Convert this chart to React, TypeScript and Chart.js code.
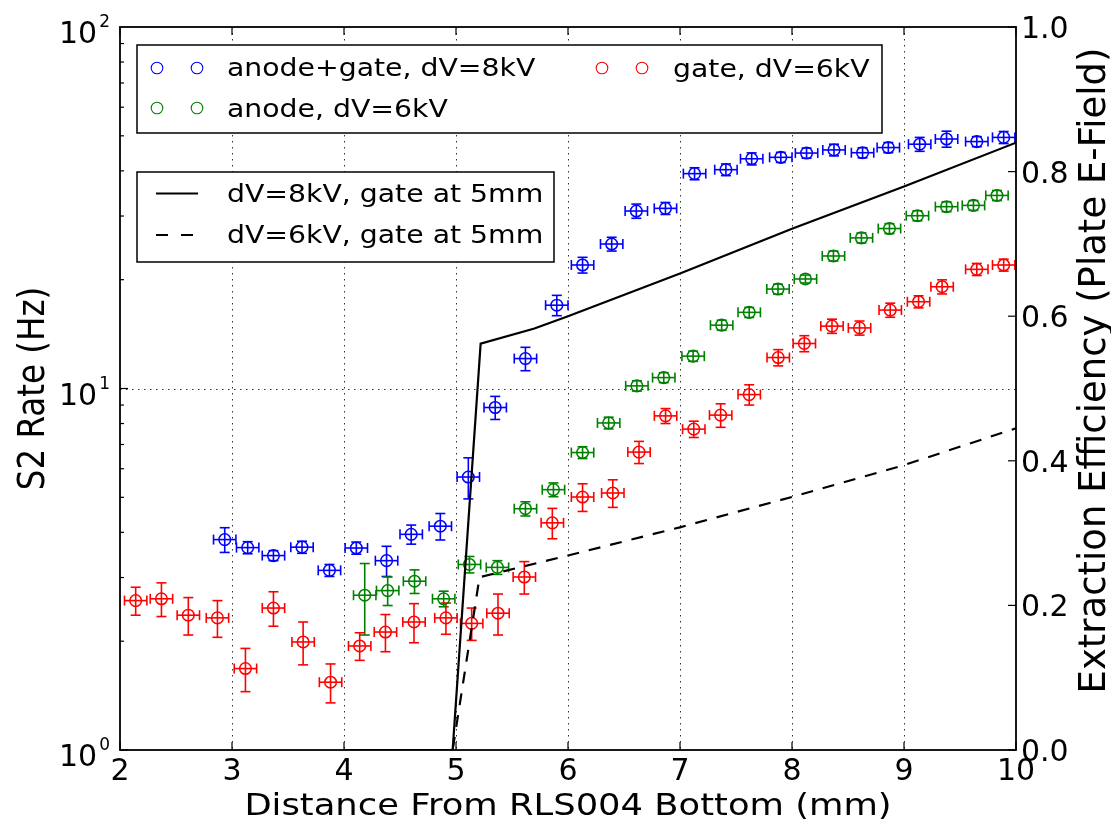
import React, { useEffect, useRef } from "react";
import { Chart, registerables } from "chart.js";

Chart.register(...registerables);

// ---------- data ----------
const blueX = [2.935, 3.14, 3.37, 3.625, 3.87, 4.11, 4.38, 4.6, 4.86, 5.11, 5.35, 5.62, 5.9, 6.13, 6.39, 6.61, 6.87, 7.13, 7.41, 7.64, 7.9, 8.13, 8.375, 8.63, 8.86, 9.14, 9.38, 9.65, 9.89];
const blueY = [3.82, 3.63, 3.45, 3.64, 3.14, 3.62, 3.34, 3.95, 4.16, 5.69, 8.86, 12.1, 17.0, 21.96, 25.1, 30.97, 31.5, 39.3, 40.3, 43.2, 43.6, 44.8, 45.7, 44.9, 46.4, 47.4, 49.0, 48.2, 49.5];
const blueErr = [0.3, 0.14, 0.11, 0.14, 0.12, 0.14, 0.32, 0.24, 0.35, 0.74, 0.65, 0.9, 1.1, 1.1, 1.1, 1.4, 1.2, 1.5, 1.5, 1.65, 1.4, 1.45, 1.7, 1.45, 1.5, 2.1, 2.5, 1.55, 1.9];

const greenX = [4.185, 4.39, 4.63, 4.89, 5.12, 5.37, 5.62, 5.87, 6.13, 6.363, 6.615, 6.855, 7.117, 7.372, 7.618, 7.875, 8.12, 8.37, 8.62, 8.87, 9.12, 9.38, 9.62, 9.83];
const greenY = [2.68, 2.76, 2.93, 2.62, 3.26, 3.2, 4.65, 5.25, 6.65, 8.03, 10.17, 10.72, 12.29, 14.97, 16.24, 18.84, 20.09, 23.26, 26.1, 27.7, 30.06, 31.84, 32.1, 34.2];
const greenErr = [0.6, 0.25, 0.22, 0.13, 0.17, 0.14, 0.21, 0.23, 0.25, 0.3, 0.33, 0.34, 0.4, 0.48, 0.52, 0.6, 0.51, 0.74, 0.83, 0.88, 0.96, 1.0, 1.0, 1.1];

const redX = [2.14, 2.37, 2.61, 2.87, 3.12, 3.37, 3.635, 3.88, 4.14, 4.37, 4.625, 4.91, 5.14, 5.375, 5.61, 5.86, 6.13, 6.4, 6.634, 6.871, 7.123, 7.363, 7.618, 7.877, 8.11, 8.357, 8.603, 8.877, 9.13, 9.34, 9.65, 9.89];
const redY = [2.59, 2.62, 2.36, 2.32, 1.68, 2.47, 1.99, 1.54, 1.94, 2.12, 2.26, 2.32, 2.24, 2.39, 3.01, 4.25, 5.01, 5.14, 6.67, 8.4, 7.72, 8.44, 9.62, 12.18, 13.32, 14.88, 14.71, 16.48, 17.38, 19.12, 21.36, 21.96];
const redErr = [0.23, 0.28, 0.28, 0.27, 0.23, 0.27, 0.27, 0.19, 0.17, 0.25, 0.28, 0.23, 0.23, 0.31, 0.31, 0.41, 0.44, 0.45, 0.47, 0.4, 0.4, 0.63, 0.62, 0.63, 0.68, 0.67, 0.66, 0.74, 0.67, 0.86, 0.82, 0.84];

const xErr = 0.1;

const eff8X = [4.0, 4.97, 5.22, 5.7, 6.0, 7.0, 8.0, 9.0, 10.0];
const eff8Y = [0, 0, 0.562, 0.583, 0.6, 0.659, 0.721, 0.7795, 0.84];
const eff6X = [4.0, 4.97, 5.21, 6.0, 7.0, 8.0, 9.0, 10.0];
const eff6Y = [0, 0, 0.239, 0.269, 0.308, 0.35, 0.394, 0.445];

const xTicks = [2, 3, 4, 5, 6, 7, 8, 9, 10];
const yLogMajor = [1, 10, 100];
const yLogLabels = ["0", "1", "2"];
const yRightTicks = [0, 0.2, 0.4, 0.6, 0.8, 1.0];
const yRightLabels = ["0.0", "0.2", "0.4", "0.6", "0.8", "1.0"];

const labelBlue = "anode+gate, dV=8kV";
const labelGreen = "anode, dV=6kV";
const labelRed = "gate, dV=6kV";
const label8 = "dV=8kV, gate at 5mm";
const label6 = "dV=6kV, gate at 5mm";
const xTitle = "Distance From RLS004 Bottom (mm)";
const yTitle = "S2 Rate (Hz)";
const y1Title = "Extraction Efficiency (Plate E-Field)";

// ---------- styles ----------
const BLUE = "#0000ff";
const GREEN = "#008000";
const RED = "#ff0000";
const FONT = '"DejaVu Sans", "Liberation Sans", sans-serif';
const DASH = [12, 10];

const SERIES = [
  { x: blueX, y: blueY, e: blueErr, color: BLUE },
  { x: greenX, y: greenY, e: greenErr, color: GREEN },
  { x: redX, y: redY, e: redErr, color: RED },
];

function text(ctx: CanvasRenderingContext2D, s: string, x: number, y: number, size: number, align: CanvasTextAlign, sx = 1, rot = 0) {
  ctx.save();
  ctx.translate(x, y);
  ctx.scale(sx, 1);
  if (rot) ctx.rotate(rot);
  ctx.font = `${size}px ${FONT}`;
  ctx.textAlign = align;
  ctx.textBaseline = "alphabetic";
  ctx.fillStyle = "#000";
  ctx.fillText(s, 0, 0);
  ctx.restore();
}

function seg(ctx: CanvasRenderingContext2D, x1: number, y1: number, x2: number, y2: number) {
  ctx.beginPath();
  ctx.moveTo(x1, y1);
  ctx.lineTo(x2, y2);
  ctx.stroke();
}

const decor = {
  id: "mplDecor",
  beforeDatasetsDraw(chart: any) {
    const { ctx, chartArea: a, scales } = chart;
    const xs = scales.x, ys = scales.y;
    ctx.save();
    // dotted grid
    ctx.strokeStyle = "rgba(0,0,0,0.8)";
    ctx.lineWidth = 1;
    ctx.setLineDash([1.5, 4.5]);
    xTicks.slice(1, -1).forEach((t) => {
      const px = Math.round(xs.getPixelForValue(t)) + 0.5;
      seg(ctx, px, a.top, px, a.bottom);
    });
    yLogMajor.slice(1, -1).forEach((t) => {
      const py = Math.round(ys.getPixelForValue(t)) + 0.5;
      seg(ctx, a.left, py, a.right, py);
    });
    ctx.setLineDash([]);
    // error bars
    const cap = 5;
    ctx.lineWidth = 1.6;
    SERIES.forEach((s) => {
      ctx.strokeStyle = s.color;
      s.x.forEach((xv, i) => {
        const yv = s.y[i];
        const px = xs.getPixelForValue(xv);
        const py = ys.getPixelForValue(yv);
        const yt = ys.getPixelForValue(yv + s.e[i]);
        const yb = ys.getPixelForValue(yv - s.e[i]);
        const xl = xs.getPixelForValue(xv - xErr);
        const xr = xs.getPixelForValue(xv + xErr);
        seg(ctx, px, yt, px, yb);
        seg(ctx, px - cap, yt, px + cap, yt);
        seg(ctx, px - cap, yb, px + cap, yb);
        seg(ctx, xl, py, xr, py);
        seg(ctx, xl, py - cap, xl, py + cap);
        seg(ctx, xr, py - cap, xr, py + cap);
      });
    });
    ctx.restore();
  },
  afterDraw(chart: any) {
    const { ctx, chartArea: a, scales } = chart;
    const xs = scales.x, ys = scales.y, y1 = scales.y1;
    ctx.save();
    ctx.strokeStyle = "#000";
    // ticks
    ctx.lineWidth = 1.2;
    xTicks.forEach((t) => {
      const px = xs.getPixelForValue(t);
      seg(ctx, px, a.bottom, px, a.bottom - 8);
      seg(ctx, px, a.top, px, a.top + 8);
    });
    for (let k = 0; k < 2; k++) {
      for (let m = 1; m < 10; m++) {
        const py = ys.getPixelForValue(m * Math.pow(10, k));
        seg(ctx, a.left, py, a.left + (m === 1 ? 8 : 4), py);
      }
    }
    yRightTicks.forEach((t) => {
      const py = y1.getPixelForValue(t);
      seg(ctx, a.right, py, a.right - 8, py);
    });
    // frame
    ctx.lineWidth = 1.8;
    ctx.strokeRect(a.left, a.top, a.right - a.left, a.bottom - a.top);

    // tick labels
    xTicks.forEach((t) => text(ctx, String(t), xs.getPixelForValue(t), a.bottom + 30, 30, "center"));
    yLogMajor.forEach((t, i) => {
      const py = ys.getPixelForValue(t);
      ctx.font = `17px ${FONT}`;
      const w = ctx.measureText(yLogLabels[i]).width;
      const right = a.left - 10;
      text(ctx, yLogLabels[i], right, py, 17, "right");
      text(ctx, "10", right - w - 2, py + 16, 30, "right");
    });
    yRightTicks.forEach((t, i) => text(ctx, yRightLabels[i], a.right + 5, y1.getPixelForValue(t) + 11, 30, "left"));

    // axis titles
    text(ctx, xTitle, (a.left + a.right) / 2, 815, 31, "center", 1.14);
    text(ctx, yTitle, 44, (a.top + a.bottom) / 2, 32.5, "center", 1.13, -Math.PI / 2);
    text(ctx, y1Title, 1105, (a.top + a.bottom) / 2 - 18, 37, "center", 1, -Math.PI / 2);

    // legend 1
    ctx.fillStyle = "#fff";
    ctx.lineWidth = 1.5;
    ctx.fillRect(137, 45, 745, 88);
    ctx.strokeRect(137, 45, 745, 88);
    const mark = (cx: number, cy: number, color: string) => {
      ctx.strokeStyle = color;
      ctx.lineWidth = 1.1;
      ctx.beginPath();
      ctx.arc(cx, cy, 5.8, 0, Math.PI * 2);
      ctx.stroke();
    };
    [[157, 68, BLUE], [197, 68, BLUE], [157, 108, GREEN], [197, 108, GREEN], [602, 68, RED], [642, 68, RED]].forEach((m: any) => mark(m[0], m[1], m[2]));
    text(ctx, labelBlue, 227, 76, 25.5, "left", 1.11);
    text(ctx, labelGreen, 227, 116.5, 25.5, "left", 1.11);
    text(ctx, labelRed, 673, 76.5, 25.5, "left", 1.11);

    // legend 2
    ctx.fillStyle = "#fff";
    ctx.strokeStyle = "#000";
    ctx.lineWidth = 1.5;
    ctx.fillRect(137, 172, 417, 90);
    ctx.strokeRect(137, 172, 417, 90);
    ctx.lineWidth = 2;
    seg(ctx, 156, 193.5, 198, 193.5);
    ctx.setLineDash([12, 13]);
    seg(ctx, 156, 235, 198, 235);
    ctx.setLineDash([]);
    text(ctx, label8, 227, 201.5, 25.5, "left", 1.11);
    text(ctx, label6, 227, 242.5, 25.5, "left", 1.11);
    ctx.restore();
  },
};

export default function App() {
  const ref = useRef<HTMLCanvasElement | null>(null);
  useEffect(() => {
    if (!ref.current) return;
    const pts = (xa: number[], ya: number[]) => xa.map((x, i) => ({ x, y: ya[i] }));
    const scatter = (label: string, xa: number[], ya: number[], color: string) => ({
      type: "scatter" as const,
      label,
      data: pts(xa, ya),
      yAxisID: "y",
      borderColor: color,
      backgroundColor: "rgba(0,0,0,0)",
      pointRadius: 5.8,
      pointBorderWidth: 1.5,
      showLine: false,
      order: 2,
    });
    const chart = new Chart(ref.current, {
      type: "scatter",
      data: {
        datasets: [
          scatter(labelBlue, blueX, blueY, BLUE),
          scatter(labelGreen, greenX, greenY, GREEN),
          scatter(labelRed, redX, redY, RED),
          {
            type: "line",
            label: label8,
            data: pts(eff8X, eff8Y),
            yAxisID: "y1",
            borderColor: "#000",
            borderWidth: 2.2,
            pointRadius: 0,
            tension: 0,
            fill: false,
            order: 1,
          } as any,
          {
            type: "line",
            label: label6,
            data: pts(eff6X, eff6Y),
            yAxisID: "y1",
            borderColor: "#000",
            borderWidth: 2.2,
            borderDash: DASH,
            pointRadius: 0,
            tension: 0,
            fill: false,
            order: 1,
          } as any,
        ],
      },
      options: {
        responsive: false,
        animation: false,
        layout: { padding: { top: 27, left: 0, right: 0, bottom: 0 }, autoPadding: false },
        plugins: { legend: { display: false }, tooltip: { enabled: false } },
        scales: {
          x: {
            type: "linear",
            min: 2,
            max: 10,
            ticks: { display: false },
            grid: { display: false },
            border: { display: false },
            afterFit: (s: any) => { s.height = 70; },
          },
          y: {
            type: "logarithmic",
            position: "left",
            min: 1,
            max: 100,
            ticks: { display: false },
            grid: { display: false },
            border: { display: false },
            afterFit: (s: any) => { s.width = 120; },
          },
          y1: {
            type: "linear",
            position: "right",
            min: 0,
            max: 1,
            ticks: { display: false },
            grid: { display: false },
            border: { display: false },
            afterFit: (s: any) => { s.width = 95; },
          },
        },
      } as any,
      plugins: [decor],
    });
    return () => chart.destroy();
  }, []);
  return (
    <div style={{ position: "absolute", left: 0, top: 0, width: 1111, height: 820, background: "#fff" }}>
      <canvas ref={ref} width={1111} height={820} style={{ display: "block" }} />
    </div>
  );
}
